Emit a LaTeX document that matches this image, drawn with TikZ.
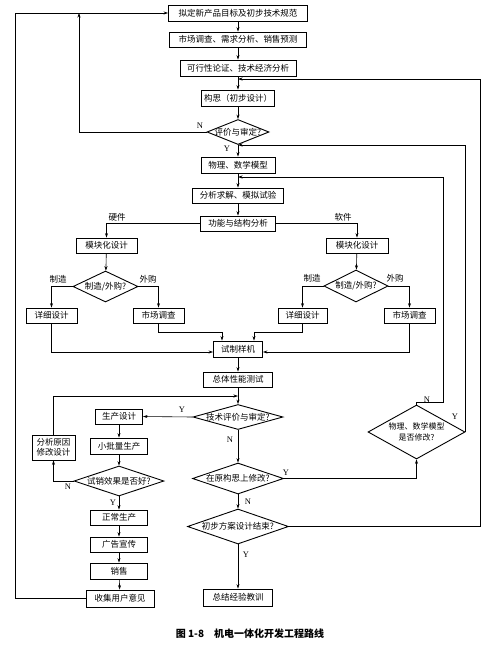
\documentclass[tikz,border=0pt]{standalone}
\usepackage{fontspec}
\newfontfamily\cjk{Noto Sans CJK SC}
\newfontfamily\tms{Liberation Serif}
\usetikzlibrary{shapes.geometric, arrows.meta}

\begin{document}
\begin{tikzpicture}[
  x=1pt, y=-1pt,
  every node/.style={font=\cjk\fontsize{8.5}{10}\selectfont},
  box/.style={draw, line width=0.9pt, minimum height=15pt, inner sep=1pt},
  dec/.style={diamond, draw, line width=0.9pt, inner sep=0pt,
              font=\cjk\fontsize{8.5}{10}\selectfont},
  flow/.style={line width=0.6pt, -{Stealth[length=4.5pt, width=3pt]}},
  link/.style={line width=0.6pt},
  yn/.style={font=\tms\fontsize{8.5}{10}\selectfont, inner sep=1pt},
]
\useasboundingbox (0,0) rectangle (500,646);

% ================================================================
% Main column (x = 238)
% ================================================================
\node[box, minimum width=139pt, minimum height=16pt] (goal)     at (238,13)    {拟定新产品目标及初步技术规范};
\node[box, minimum width=137pt]                      (survey)   at (238,39.5)  {市场调查、需求分析、销售预测};
\node[box, minimum width=116pt, minimum height=16pt] (feasible) at (238,68)    {可行性论证、技术经济分析};
\node[box, minimum width=73pt,  minimum height=16pt] (concept)  at (238,98)    {构思（初步设计）};
\node[dec, minimum width=62pt,  minimum height=25pt] (review)   at (238,132)   {\makebox[0pt]{评价与审定?}};
\node[box, minimum width=74pt,  minimum height=16pt] (model)    at (238,165)   {物理、数学模型};
\node[box, minimum width=91pt]                       (solve)    at (238,195.5) {分析求解、模拟试验};
\node[box, minimum width=75pt]                       (func)     at (238,223.5) {功能与结构分析};

% --- Hardware / software branches ---
\node[box, minimum width=61pt] (hwmod)    at (106.5,245.5) {模块化设计};
\node[dec, minimum width=65pt, minimum height=31pt] (hwdec) at (105.5,286.5) {\makebox[0pt]{制造/外购?}};
\node[box, minimum width=51pt] (hwdetail) at (51.5,315.5)  {详细设计};
\node[box, minimum width=51pt] (hwbuy)    at (158.5,315.5) {市场调查};

\node[box, minimum width=62pt] (swmod)    at (357,245.5)   {模块化设计};
\node[dec, minimum width=64pt, minimum height=32pt] (swdec) at (356,286) {\makebox[0pt]{制造/外购?}};
\node[box, minimum width=49pt] (swdetail) at (302.5,315.5) {详细设计};
\node[box, minimum width=51pt] (swbuy)    at (409.5,315.5) {市场调查};

\node[box, minimum width=49pt, minimum height=16pt] (proto) at (238,349)   {试制样机};
\node[box, minimum width=69pt]                      (test)  at (238,379.5) {总体性能测试};

% --- Evaluation and production ---
\node[dec, minimum width=90pt, minimum height=25pt] (techrev) at (238,417) {\makebox[0pt]{技术评价与审定?}};
\node[box, minimum width=47pt]                      (proddes) at (119,416.5) {生产设计};
\node[box, minimum width=57pt, minimum height=16pt] (batch)   at (119,446)   {小批量生产};
\node[dec, minimum width=90pt, minimum height=30pt] (trial)   at (119,481)   {\makebox[0pt]{试销效果是否好?}};
\node[box, minimum width=43pt, minimum height=25pt, align=center] (analyse) at (53.5,447.5) {分析原因\\修改设计};
\node[box, minimum width=57pt]                      (normal)   at (119,517.5) {正常生产};
\node[box, minimum width=57pt]                      (advert)   at (119,544.5) {广告宣传};
\node[box, minimum width=57pt, minimum height=16pt] (sales)    at (119,571)   {销售};
\node[box, minimum width=68pt, minimum height=17pt] (feedback) at (120,598.5) {收集用户意见};

\node[dec, minimum width=91pt, minimum height=31pt] (modify) at (238,478.5) {\makebox[0pt]{在原构思上修改?}};
\node[dec, minimum width=97pt, minimum height=54pt, font=\cjk\fontsize{8}{9.5}\selectfont] (mdlq) at (416.5,432) {\makebox[0pt]{\shortstack{物理、数学模型\\是否修改?}}};
\node[dec, minimum width=101pt, minimum height=35pt] (finish) at (238,526.5) {\makebox[0pt]{初步方案设计结束?}};
\node[box, minimum width=69pt, minimum height=17pt] (summary) at (238,597.5) {总结经验教训};

% --- Bend points of the feedback loops ---
\coordinate (outerL) at (15,13);
\coordinate (backN)  at (79,13);
\coordinate (backR)  at (480,79);
\coordinate (inR)    at (238,79);
\coordinate (inY)    at (238,145);
\coordinate (bendM)  at (443,402);
\coordinate (inM)    at (238,177);
\coordinate (loopA)  at (238,396);

% ================================================================
% Connectors
% ================================================================
\draw[flow] (goal) -- (survey);
\draw[flow] (survey) -- (feasible);
\draw[flow] (feasible) -- (concept);
\draw[flow] (concept) -- (review);
\draw[flow] (review) -- (model);
\draw[flow] (model) -- (solve);
\draw[flow] (solve) -- (func);
\draw[flow] (func.west) -| (hwmod.north);
\draw[flow] (func.east) -| (swmod.north);

\draw[flow] (hwmod) -- (hwdec);
\draw[flow] (hwdec.west) -| (hwdetail.north);
\draw[flow] (hwdec.east) -| (hwbuy.north);
\draw[flow] (swmod) -- (swdec);
\draw[flow] (swdec.west) -| (swdetail.north);
\draw[flow] (swdec.east) -| (swbuy.north);

\draw[flow] (hwdetail.south) |- ([yshift=-3pt]proto.west);
\draw[flow] (hwbuy.south) |- ([xshift=-16pt, yshift=8pt]proto.north) -- ([xshift=-16pt]proto.north);
\draw[flow] (swdetail.south) |- ([xshift=16pt, yshift=8pt]proto.north) -- ([xshift=16pt]proto.north);
\draw[flow] (swbuy.south) |- ([yshift=-3pt]proto.east);

\draw[flow] (proto) -- (test);
\draw[flow] (test) -- (techrev);
\draw[flow] (techrev.west) -- (proddes.east);
\draw[flow] (proddes) -- (batch);
\draw[flow] (batch) -- (trial);
\draw[flow] (trial.west) -| (analyse.south);
\draw[flow] (analyse.north) |- (loopA);
\draw[flow] (trial) -- (normal);
\draw[flow] (normal) -- (advert);
\draw[flow] (advert) -- (sales);
\draw[flow] (sales) -- (feedback);
\draw[flow] (feedback.west) -| (outerL) -- (goal.west);
\draw[flow] (review.west) -| (backN);

\draw[flow] (techrev) -- (modify);
\draw[flow] (modify.east) -| (mdlq.south);
\draw[flow] (modify) -- (finish);
\draw[flow] (finish) -- (summary);
\draw[flow] (finish.east) -| (backR) -- (inR);
\draw[flow] (mdlq.north) |- (bendM) |- (inM);
\draw[flow] (mdlq.east) |- (inY);

% --- Branch labels ---
\node (lblHW) at (117,217) {硬件};
\node (lblSW) at (343,217) {软件};
\node (lblM1) at (58,279)  {制造};
\node (lblB1) at (148,279) {外购};
\node (lblM2) at (312,278) {制造};
\node (lblB2) at (395,278) {外购};

\node[yn] (ynA) at (200,126) {N};
\node[yn] (ynB) at (227,149) {Y};
\node[yn] (ynC) at (182,410) {Y};
\node[yn] (ynD) at (230,440) {N};
\node[yn] (ynE) at (68,487)  {N};
\node[yn] (ynF) at (113,503) {Y};
\node[yn] (ynG) at (286,473) {Y};
\node[yn] (ynH) at (248,502) {N};
\node[yn] (ynI) at (246,555) {Y};
\node[yn] (ynJ) at (427,400) {N};
\node[yn] (ynK) at (455,417) {Y};

% --- Caption ---
\node[font=\cjk\fontsize{10}{12}\selectfont\bfseries] (caption) at (250,634) {图 1-8\quad 机电一体化开发工程路线};

\end{tikzpicture}
\end{document}
